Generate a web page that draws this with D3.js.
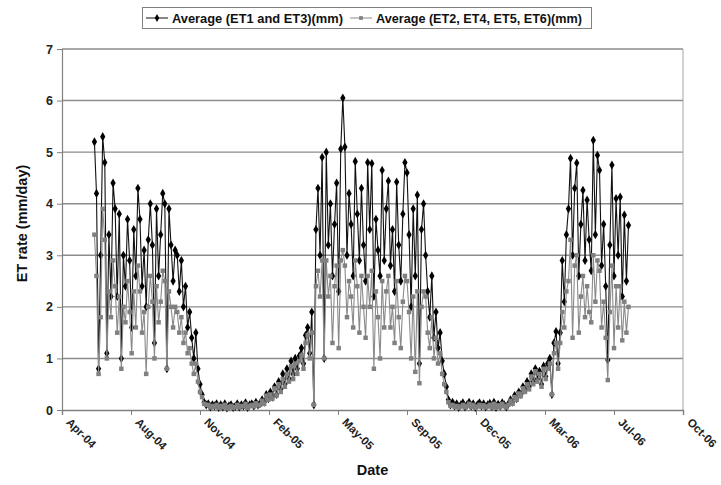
<!DOCTYPE html>
<html><head><meta charset="utf-8">
<script src="https://cdn.jsdelivr.net/npm/d3@7"></script>
<style>body{margin:0;background:#fff}svg{display:block}text{font-family:"Liberation Sans",Arial,sans-serif}</style>
</head><body><svg id="c" width="721" height="485"></svg>
<script>
// ---- data (3-day sampling) ----
const seriesNames = ["Average (ET1 and ET3)(mm)", "Average (ET2, ET4, ET5, ET6)(mm)"];
const firstDate = "2004-06-11";
const stepDays = 3;
const avgET13 = [
 5.2,4.2,0.8,3.0,5.3,4.8,1.1,3.4,2.2,4.4,
 3.9,2.2,3.8,1.0,3.0,2.4,3.7,2.9,1.6,3.5,
 2.6,4.3,3.7,2.4,3.1,2.0,3.3,4.0,3.2,1.3,
 3.9,2.6,3.4,4.2,4.0,0.8,3.9,3.2,2.5,3.1,
 3.0,2.3,2.9,2.0,2.4,1.6,1.9,1.4,1.0,1.5,
 0.8,0.5,0.3,0.15,0.1,0.12,0.06,0.1,0.08,0.12,
 0.05,0.1,0.06,0.12,0.04,0.08,0.1,0.05,0.07,0.12,
 0.06,0.1,0.08,0.14,0.05,0.1,0.12,0.08,0.15,0.1,
 0.12,0.2,0.15,0.3,0.22,0.35,0.25,0.45,0.3,0.55,
 0.4,0.7,0.5,0.8,0.6,0.95,0.7,1.0,0.8,1.05,
 1.2,0.9,1.45,1.6,1.1,1.9,0.1,3.5,4.3,3.0,
 4.9,1.0,5.0,3.2,4.0,2.6,3.6,4.4,2.3,5.06,
 6.05,5.1,3.0,4.2,3.6,2.6,4.82,3.8,2.9,4.3,
 3.2,2.5,4.8,3.5,4.78,2.2,3.7,3.1,2.6,4.65,
 2.9,3.9,4.44,2.8,3.5,2.3,4.42,3.2,2.5,3.8,
 4.8,4.6,3.4,2.0,3.9,2.6,4.17,0.9,3.5,4.0,
 3.0,2.3,1.8,2.6,1.4,1.9,1.2,1.5,0.95,0.7,
 0.45,0.2,0.1,0.15,0.08,0.12,0.05,0.1,0.14,0.06,
 0.1,0.15,0.08,0.12,0.05,0.1,0.14,0.08,0.12,0.06,
 0.1,0.13,0.07,0.15,0.05,0.11,0.08,0.14,0.1,0.06,
 0.12,0.2,0.15,0.28,0.22,0.35,0.3,0.45,0.4,0.55,
 0.45,0.7,0.55,0.8,0.6,0.75,0.5,0.85,0.65,0.9,
 1.0,0.3,1.3,1.52,0.9,1.5,2.9,2.1,3.4,3.9,
 4.88,3.0,4.3,4.79,2.6,3.6,4.26,2.9,4.07,3.3,
 2.7,5.23,3.4,4.94,4.65,2.8,3.6,2.4,0.97,3.2,
 4.75,2.6,4.1,3.0,4.13,2.2,3.78,2.5,3.58
];
const avgET2456 = [
 3.4,2.6,0.7,1.8,3.9,3.3,1.0,2.3,1.8,2.9,
 2.4,1.5,2.2,0.8,2.0,1.7,2.5,1.9,1.1,2.3,
 1.6,2.8,2.3,1.5,1.9,0.7,2.0,2.6,2.1,1.0,
 2.4,1.7,2.1,2.7,2.5,0.8,2.3,2.0,1.6,2.0,
 1.9,1.5,1.8,1.3,1.5,1.1,1.2,0.9,0.7,0.9,
 0.55,0.35,0.25,0.12,0.1,0.1,0.05,0.08,0.06,0.1,
 0.04,0.08,0.05,0.1,0.03,0.06,0.08,0.04,0.06,0.1,
 0.05,0.08,0.07,0.12,0.04,0.08,0.1,0.07,0.13,0.09,
 0.1,0.18,0.12,0.28,0.2,0.3,0.22,0.42,0.28,0.5,
 0.35,0.6,0.45,0.7,0.55,0.85,0.6,0.9,0.7,0.95,
 1.05,0.8,1.3,1.45,1.0,1.5,0.1,2.4,2.7,2.2,
 2.9,1.0,2.9,2.2,2.6,1.3,2.4,2.8,1.2,2.9,
 3.1,2.8,1.8,2.5,2.2,1.6,2.9,2.4,1.5,2.6,
 2.0,1.4,2.6,2.0,2.7,0.8,2.3,1.8,1.0,2.5,
 1.6,2.3,2.6,1.6,2.0,1.3,2.5,1.8,1.2,2.1,
 2.6,2.5,1.9,1.0,2.2,0.74,2.3,0.52,2.0,2.3,
 2.2,1.5,1.2,1.8,1.0,1.4,0.9,1.1,0.7,0.5,
 0.35,0.15,0.08,0.1,0.06,0.08,0.04,0.07,0.1,0.05,
 0.08,0.12,0.06,0.1,0.04,0.07,0.1,0.06,0.09,0.05,
 0.07,0.1,0.05,0.12,0.04,0.09,0.06,0.12,0.08,0.05,
 0.1,0.18,0.12,0.25,0.2,0.32,0.27,0.42,0.35,0.5,
 0.4,0.65,0.5,0.75,0.55,0.7,0.45,0.8,0.6,0.8,
 0.9,0.3,1.1,1.3,0.8,1.3,1.9,1.6,2.3,2.5,
 3.3,1.4,2.8,3.0,1.5,2.2,2.6,1.8,2.4,1.9,
 1.7,3.0,2.1,2.9,2.7,1.6,2.1,1.4,0.58,1.9,
 2.8,1.2,2.4,1.6,2.4,1.35,2.1,1.5,2.0
];
const axisStart = "2004-04-25";
const tickStepDays = 100;
const tickCount = 10;
const yTicks = [0,1,2,3,4,5,6,7];

// ---- build ----
const parse = d3.utcParse("%Y-%m-%d");
const t0 = parse(axisStart);
const d0 = parse(firstDate);
const dates = avgET13.map((_, i) => d3.utcDay.offset(d0, i * stepDays));
const xTickDates = d3.range(tickCount).map(k => d3.utcDay.offset(t0, k * tickStepDays));

const L = 62, R = 683, T = 49, B = 410;
const x = d3.scaleUtc().domain([xTickDates[0], xTickDates[tickCount - 1]]).range([L, R]);
const y = d3.scaleLinear().domain([0, 7]).range([B, T]);
const svg = d3.select("#c");

// gridlines
svg.append("g").selectAll("line").data(yTicks.filter(v => v > 0)).join("line")
  .attr("x1", L).attr("x2", R).attr("y1", d => y(d)).attr("y2", d => y(d))
  .attr("stroke", "#8c8c8c").attr("stroke-width", 1.4);
// right border
svg.append("line").attr("x1", R).attr("x2", R).attr("y1", T).attr("y2", B)
  .attr("stroke", "#a6a6a6").attr("stroke-width", 1);

// y axis
const ya = svg.append("g").attr("transform", `translate(${L},0)`)
  .call(d3.axisLeft(y).tickValues(yTicks).tickSize(5).tickFormat(d3.format("d")));
ya.select(".domain").attr("stroke", "#808080").attr("stroke-width", 1.2);
ya.selectAll(".tick line").attr("stroke", "#808080");
ya.selectAll("text").attr("font-size", 12.5).attr("font-weight", "bold").attr("fill", "#222")
  .attr("font-family", "Liberation Sans, Arial, sans-serif").attr("x", -9);

// x axis
const fmt = d3.utcFormat("%b-%y");
const xa = svg.append("g").attr("transform", `translate(0,${B})`)
  .call(d3.axisBottom(x).tickValues(xTickDates).tickSize(5).tickFormat(fmt));
xa.select(".domain").attr("stroke", "#808080").attr("stroke-width", 1.4);
xa.selectAll(".tick line").attr("stroke", "#808080");
xa.selectAll("text").attr("font-size", 11.5).attr("font-weight", "bold").attr("fill", "#222")
  .attr("font-family", "Liberation Sans, Arial, sans-serif")
  .attr("text-anchor", "start").attr("dy", null).attr("y", 0)
  .attr("transform", "translate(3,13) rotate(45)");

// series
const s1 = dates.map((d, i) => ({d, v: avgET13[i]}));
const s2 = dates.map((d, i) => ({d, v: avgET2456[i]}));
const line = d3.line().x(p => x(p.d)).y(p => y(p.v));
svg.append("path").datum(s1).attr("d", line).attr("fill", "none").attr("stroke", "#111").attr("stroke-width", 1.1);
svg.append("g").selectAll("path").data(s1).join("path")
  .attr("transform", p => `translate(${x(p.d)},${y(p.v)})`)
  .attr("d", d3.symbol(d3.symbolDiamond, 24)).attr("fill", "#000");
svg.append("path").datum(s2).attr("d", line).attr("fill", "none").attr("stroke", "#8a8a8a").attr("stroke-width", 1.1);
svg.append("g").selectAll("path").data(s2).join("path")
  .attr("transform", p => `translate(${x(p.d)},${y(p.v)})`)
  .attr("d", d3.symbol(d3.symbolSquare, 20)).attr("fill", "#808080");

// axis titles
svg.append("text").attr("transform", `translate(27,${(T + B) / 2 - 6}) rotate(-90)`)
  .attr("text-anchor", "middle").attr("font-size", 14.5).attr("font-weight", "bold").attr("fill", "#111")
  .text("ET rate (mm/day)");
svg.append("text").attr("x", (L + R) / 2).attr("y", 475)
  .attr("text-anchor", "middle").attr("font-size", 14.5).attr("font-weight", "bold").attr("fill", "#111")
  .text("Date");

// legend
const lg = svg.append("g");
lg.append("rect").attr("x", 142.5).attr("y", 7.5).attr("width", 449).attr("height", 21)
  .attr("fill", "#fff").attr("stroke", "#808080").attr("stroke-width", 1);
const legendX = [146, 350];
const legendW = [171, 206];
seriesNames.forEach((name, k) => {
  const g = lg.append("g").attr("transform", `translate(${legendX[k]},18)`);
  g.append("line").attr("x1", 0).attr("x2", 22).attr("stroke", k ? "#8a8a8a" : "#111");
  g.append("path").attr("transform", "translate(11,0)")
    .attr("d", d3.symbol(k ? d3.symbolSquare : d3.symbolDiamond, k ? 14 : 18)).attr("fill", k ? "#808080" : "#000");
  g.append("text").attr("x", 26).attr("y", 4.5).attr("font-size", 13).attr("font-weight", "bold").attr("fill", "#111")
    .attr("textLength", legendW[k]).attr("lengthAdjust", "spacingAndGlyphs")
    .text(name);
});
</script></body></html>
